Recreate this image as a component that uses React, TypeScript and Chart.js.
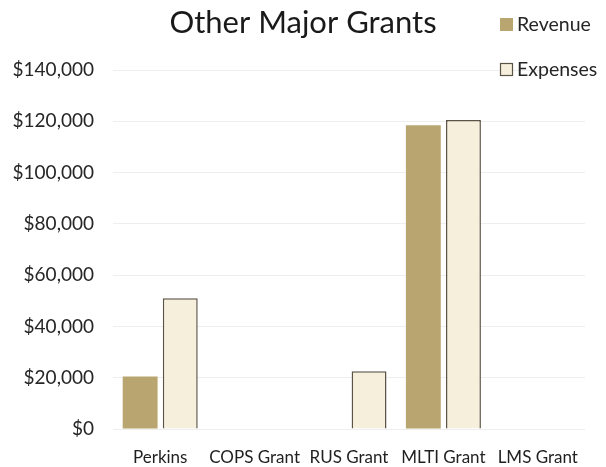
import React, { useEffect, useRef } from "react";
import { Chart, registerables } from "chart.js";

Chart.register(...registerables);

const categories = ["Perkins", "COPS Grant", "RUS Grant", "MLTI Grant", "LMS Grant"];
const revenue = [20500, 0, 0, 118500, 0];
const expenses = [51000, 0, 22500, 120500, 0];
const yTicks = [0, 20000, 40000, 60000, 80000, 100000, 120000, 140000];

const FONT = "Lato, 'Open Sans', sans-serif";
const REVENUE_FILL = "#b9a56f";
const EXPENSES_FILL = "#f6efdc";
const EXPENSES_BORDER = "#5b5446";

const fmtMoney = (v: number) => "$" + v.toLocaleString("en-US");

// Stacked legend in the top-right corner, above the plot
const cornerLegend = {
  id: "cornerLegend",
  afterDraw(chart: any) {
    const ctx = chart.ctx as CanvasRenderingContext2D;
    const x = 500;
    const rows = [24, 69];
    ctx.save();
    ctx.font = `19.5px ${FONT}`;
    ctx.textBaseline = "middle";
    chart.data.datasets.forEach((ds: any, i: number) => {
      const y = rows[i];
      ctx.fillStyle = ds.backgroundColor;
      ctx.fillRect(x, y - 6, 13, 13);
      if (ds.borderWidth) {
        ctx.strokeStyle = ds.borderColor;
        ctx.lineWidth = 1.2;
        ctx.strokeRect(x + 0.5, y - 5.5, 12, 12);
      }
      ctx.fillStyle = "#262626";
      ctx.fillText(ds.label, x + 17, y + 1);
    });
    ctx.restore();
  },
};

export default function App() {
  const canvasRef = useRef<HTMLCanvasElement | null>(null);

  useEffect(() => {
    if (!canvasRef.current) return;
    const chart = new Chart(canvasRef.current, {
      type: "bar",
      data: {
        labels: categories,
        datasets: [
          {
            label: "Revenue",
            data: revenue,
            backgroundColor: REVENUE_FILL,
            borderWidth: 0,
            categoryPercentage: 0.85,
            barPercentage: 0.87,
          },
          {
            label: "Expenses",
            data: expenses,
            backgroundColor: EXPENSES_FILL,
            borderColor: EXPENSES_BORDER,
            borderWidth: 1.5,
            categoryPercentage: 0.85,
            barPercentage: 0.87,
          },
        ],
      },
      options: {
        animation: false,
        responsive: true,
        maintainAspectRatio: false,
        layout: { padding: 0 },
        plugins: {
          legend: { display: false },
          tooltip: { enabled: false },
          title: {
            display: true,
            text: "Other Major Grants",
            color: "#1a1a1a",
            font: { family: FONT, size: 31, weight: "normal" },
            padding: { top: 4, bottom: 28.8 },
          },
        },
        scales: {
          x: {
            grid: { display: false, drawTicks: false },
            border: { display: false },
            ticks: {
              color: "#1f1f1f",
              font: { family: FONT, size: 17 },
              padding: 18,
              maxRotation: 0,
              autoSkip: false,
            },
            afterFit(scale: any) {
              scale.height = 38;
            },
          },
          y: {
            min: 0,
            max: 140000,
            afterBuildTicks(scale: any) {
              scale.ticks = yTicks.map((v) => ({ value: v }));
            },
            grid: { color: "#eeeeee", lineWidth: 1, drawTicks: false },
            border: { display: false },
            ticks: {
              color: "#262626",
              font: { family: FONT, size: 19 },
              padding: 19,
              callback: (v: any) => fmtMoney(Number(v)),
            },
            afterFit(scale: any) {
              scale.width = 113;
            },
          },
          // blank right-hand margin so the plot ends short of the canvas edge
          yRight: {
            position: "right",
            grid: { display: false, drawTicks: false },
            border: { display: false },
            ticks: { display: false },
            afterFit(scale: any) {
              scale.width = 21;
            },
          },
        },
      },
      plugins: [cornerLegend],
    });
    return () => chart.destroy();
  }, []);

  return (
    <div style={{ position: "fixed", left: 0, top: 0, width: 606, height: 467, background: "#ffffff" }}>
      <canvas ref={canvasRef} />
    </div>
  );
}
